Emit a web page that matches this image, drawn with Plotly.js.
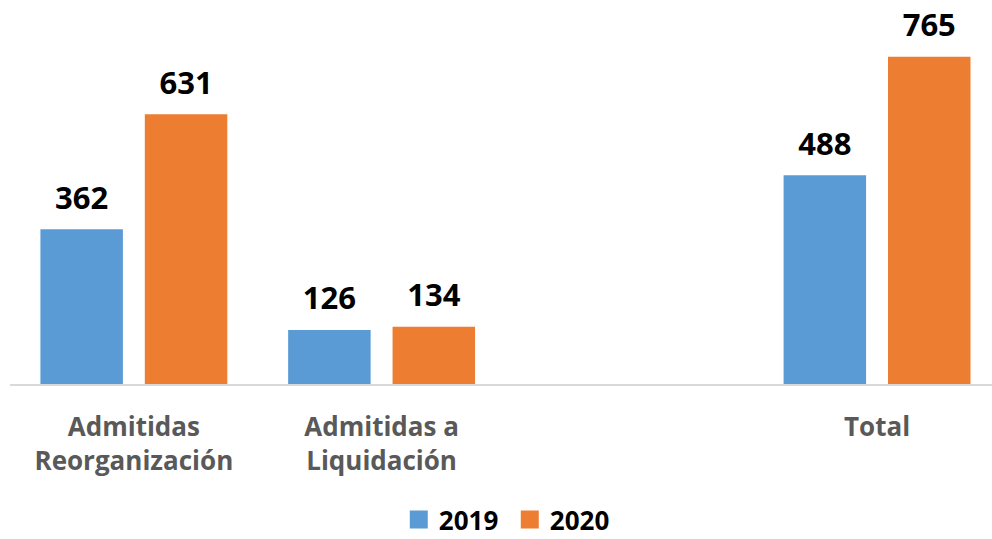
<!DOCTYPE html>
<html>
<head>
<meta charset="utf-8">
<script src="https://cdn.plot.ly/plotly-3.0.1.min.js"></script>
<style>html,body{margin:0;padding:0;background:#fff;}#chart{width:992px;height:539px;}</style>
</head>
<body>
<div id="chart"></div>
<script>
const categories = ["Admitidas<br>Reorganización", "Admitidas a<br>Liquidación", " ", "Total"];
const values2019 = [362, 126, null, 488];
const values2020 = [631, 134, null, 765];
const seriesNames = ["2019", "2020"];
const seriesColors = ["#5B9BD5", "#ED7D31"];

const labelFont = {family: "Open Sans, Liberation Sans, sans-serif", size: 31, color: "#000000", weight: "bold"};
const seriesValues = [values2019, values2020];

const traces = [];
seriesValues.forEach((vals, i) => {
  traces.push({type: "bar", name: seriesNames[i], x: categories, y: vals,
    marker: {color: seriesColors[i]}, offsetgroup: String(i), hoverinfo: "none"});
});
seriesValues.forEach((vals, i) => {
  traces.push({type: "scatter", mode: "markers+text", showlegend: false, x: categories, y: vals,
    text: vals.map(v => v == null ? "" : String(v)), textposition: "top center", textfont: labelFont,
    marker: {size: 19, color: "rgba(0,0,0,0)"}, offsetgroup: String(i), cliponaxis: false, hoverinfo: "none"});
});

const layout = {
  width: 992, height: 539,
  margin: {l: 10, r: 0, t: 0, b: 155},
  paper_bgcolor: "#ffffff", plot_bgcolor: "#ffffff",
  barmode: "group", bargap: 0.157, bargroupgap: 0.21,
  scattermode: "group", scattergap: 0.157,
  showlegend: true,
  legend: {orientation: "h", xref: "container", x: 0.402, xanchor: "left",
           yref: "container", y: 0.0, yanchor: "bottom",
           entrywidth: 66, entrywidthmode: "pixels",
           font: {family: "Open Sans, sans-serif", size: 26, color: "#000000", weight: "bold"}},
  xaxis: {type: "category", categoryorder: "array", categoryarray: categories, automargin: false,
          range: [-0.5, 3.464], showline: true, linecolor: "#D9D9D9", linewidth: 2,
          ticks: "outside", ticklen: 19, tickcolor: "rgba(0,0,0,0)", showgrid: false, zeroline: false,
          tickfont: {family: "Open Sans, sans-serif", size: 26, color: "#595959", weight: "bold"}},
  yaxis: {range: [0, 898], visible: false, showgrid: false, zeroline: false, automargin: false},
  font: {family: "Open Sans, sans-serif"}
};

Plotly.newPlot("chart", traces, layout, {displayModeBar: false, staticPlot: true}).then(gd => {
  gd.querySelectorAll(".legend .legendpoints path").forEach(p => p.setAttribute("d", "M9,9H-9V-9H9Z"));
  const leg = gd.querySelector("g.legend");
  if (leg) {
    const t = leg.getAttribute("transform") || "";
    const m = t.match(/translate\(\s*([-\d.]+)[ ,]+([-\d.]+)\s*\)/);
    if (m) leg.setAttribute("transform", "translate(" + m[1] + "," + (parseFloat(m[2]) + 4) + ")");
  }
});
</script>
</body>
</html>
